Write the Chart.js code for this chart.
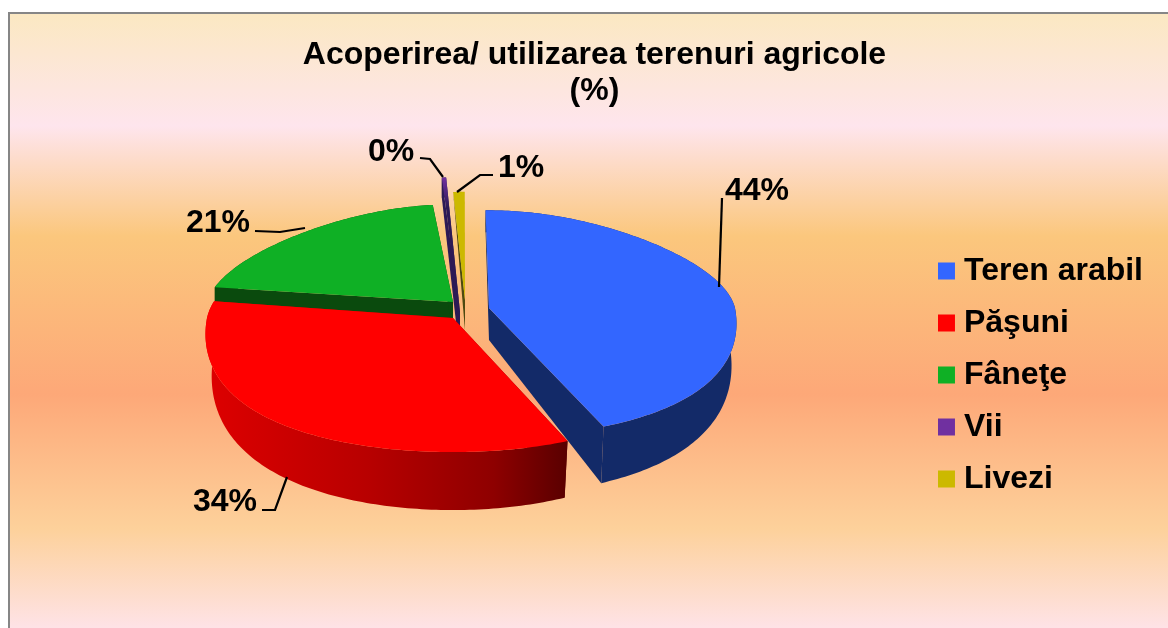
<!DOCTYPE html>
<html><head><meta charset="utf-8">
<style>
html,body{margin:0;padding:0;background:#fff;overflow:hidden;width:1168px;height:628px}
#frame{position:absolute;left:8px;top:12px;width:1170px;height:640px;border-left:2px solid #868686;border-top:2px solid #868686;
background:linear-gradient(to bottom,#fbe8c2 0px,#fee5ed 112px,#fbc77d 222px,#fda878 380px,#fdd19b 515px,#fee3e8 616px)}
canvas{position:absolute;left:0;top:0}
</style></head><body>
<div id="frame"></div>
<canvas id="c" width="1168" height="628"></canvas>
<script src="https://cdn.jsdelivr.net/npm/chart.js@4"></script>
<script>
const titleLines = ['Acoperirea/ utilizarea terenuri agricole', '(%)'];
const categories = ['Teren arabil', 'Păşuni', 'Fâneţe', 'Vii', 'Livezi'];
const shares = [43.8, 33.9, 20.9, 0.4, 1.0];
const topColors = ['#3366ff', '#ff0000', '#0fb025', '#7030a0', '#ccb900'];
const wallColors = ['#132a68', null, '#0a4a0d', '#2d1a55', '#4d4a10'];

// 3D look of each slice (pie is tilted with perspective)
const look = [
  {dx: 8.5, dy: -5.5, s1: .1, s2: .1, kF: .525, kB: .397, d0: 32, dr: 40, d1: 18, shrink: .98, sh: 0},
  {dx: -27.5, dy: 4.5, s1: .1, s2: .1, kF: .545, kB: .45, d0: 32, dr: 40, d1: 18, shrink: .975, sh: 0},
  {dx: -27.5, dy: -11.5, s1: .12, s2: .1, kF: .537, kB: .397, d0: 32, dr: 32, d1: 24, shrink: 1, sh: 0},
  {dx: -20.5, dy: -1.5, s1: .3, s2: 0, kF: .55, kB: .549, d0: 45, dr: 45, d1: 25, shrink: 1, sh: 0},
  {dx: -15.5, dy: -13.5, s1: .25, s2: 0, kF: .55, kB: .44, d0: 30, dr: 30, d1: 30, shrink: 1, sh: 3}
];
const drawOrder = [2, 4, 3, 0, 1];
const leaders = [
  [[719, 287], [722, 198]],
  [[287, 477], [275, 510], [262, 510]],
  [[305, 228], [280, 232], [255, 231]],
  [[443, 177], [430, 159], [420, 158]],
  [[457, 192], [480, 175], [493, 175]]
];
const labelSpots = [[725, 200], [193, 511], [186, 232], [368, 161], [498, 177]];

const pie3d = {
  id: 'pie3d',
  beforeDatasetDraw(chart, args) {
    const ctx = chart.ctx, arcs = chart.getDatasetMeta(args.index).data;
    for (const i of drawOrder) {
      const arc = arcs[i], L = look[i], R = arc.outerRadius;
      const ax = arc.x + L.dx, ay = arc.y + L.dy;
      const top = a => {
        const u = Math.cos(a), v = Math.sin(a);
        const f = 1 + L.s1 * v + (v > 0 ? L.s2 : -L.s2) * v * v;
        return [ax + L.sh + R * u * f, ay + R * v * (v > 0 ? L.kF : L.kB), v];
      };
      const low = p => [ax + (p[0] - ax) * L.shrink, p[1] + L.dr + L.d1 * p[2]];
      const n = Math.max(8, Math.ceil((arc.endAngle - arc.startAngle) * 60));
      const rim = [];
      for (let k = 0; k <= n; k++) rim.push(top(arc.startAngle + (arc.endAngle - arc.startAngle) * k / n));
      const apex = [ax, ay, 0];
      const apexLow = [ax, ay + L.d0];
      const poly = (pts, fill) => {
        ctx.beginPath();
        pts.forEach((p, k) => k ? ctx.lineTo(p[0], p[1]) : ctx.moveTo(p[0], p[1]));
        ctx.closePath();
        ctx.fillStyle = fill;
        ctx.fill();
      };
      let wall = wallColors[i];
      if (!wall) {
        wall = ctx.createLinearGradient(ax - R * 1.01, 0, ax + R * .46, 0);
        wall.addColorStop(0, '#de0000');
        wall.addColorStop(.45, '#b80000');
        wall.addColorStop(.8, '#8e0000');
        wall.addColorStop(1, '#5a0000');
      }
      poly([...rim, ...rim.slice().reverse().map(low)], wall);
      poly([apex, rim[0], low(rim[0]), apexLow], wall);
      poly([apex, rim[n], low(rim[n]), apexLow], wall);
      let cap = topColors[i];
      if (i === 3) {
        cap = ctx.createLinearGradient(0, rim[0][1], 0, rim[0][1] + 30);
        cap.addColorStop(0, topColors[3]);
        cap.addColorStop(1, wallColors[3]);
      }
      poly([apex, ...rim], cap);
    }
    return false;
  },
  afterDatasetsDraw(chart) {
    const ctx = chart.ctx;
    ctx.save();
    ctx.strokeStyle = '#000';
    ctx.lineWidth = 2.2;
    leaders.forEach(line => {
      ctx.beginPath();
      line.forEach((p, k) => k ? ctx.lineTo(p[0], p[1]) : ctx.moveTo(p[0], p[1]));
      ctx.stroke();
    });
    ctx.fillStyle = '#000';
    ctx.font = 'bold 32px "Liberation Sans"';
    ctx.textBaseline = 'alphabetic';
    const total = shares.reduce((a, b) => a + b, 0);
    labelSpots.forEach((p, i) => ctx.fillText(Math.round(shares[i] / total * 100) + '%', p[0], p[1]));
    ctx.restore();
  }
};

new Chart(document.getElementById('c'), {
  type: 'pie',
  data: {labels: categories, datasets: [{data: shares, backgroundColor: topColors, borderWidth: 0}]},
  plugins: [pie3d],
  options: {
    responsive: false,
    animation: false,
    radius: 246,
    rotation: -1,
    layout: {padding: {left: 36, right: 15, top: 0, bottom: 113}},
    plugins: {
      tooltip: {enabled: false},
      title: {display: true, text: titleLines, color: '#000', padding: {top: 37, bottom: 3},
        font: {family: '"Liberation Sans"', size: 32, weight: 'bold', lineHeight: 1.125}},
      legend: {position: 'right', align: 'end',
        labels: {color: '#000', usePointStyle: true, pointStyle: 'rect', boxWidth: 3, boxHeight: 17, padding: 20,
          font: {family: '"Liberation Sans"', size: 32, weight: 'bold'}}}
    }
  }
});
</script>
</body></html>
